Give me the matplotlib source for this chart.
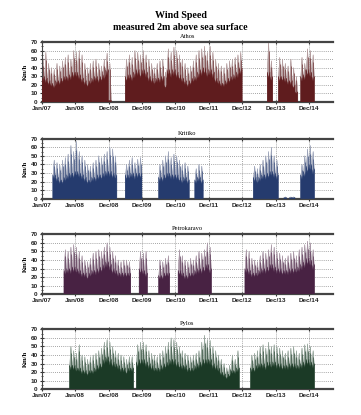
import numpy as np
import matplotlib
matplotlib.use("Agg")
import matplotlib.pyplot as plt
from matplotlib.ticker import MultipleLocator

N = np.nan

# Monthly values, Jan 2007 ... Feb 2015 (km/h): peak wind and typical upper level
athos_peak = (
    [50, 58, 45, 40, 38, 45, 42, 48, 52, 55, 50, 60] +
    [58, 60, 55, 45, 40, 45, 48, 50, 45, 42, 50, 57] +
    [45, N, N, N, N, N, 50, 55, 52, 60, 58, 55] +
    [60, 55, 50, 45, 40, 45, 48, 50, 35, 62, 58, 64] +
    [60, 55, 50, 45, 40, 42, 48, 55, 60, 62, 65, 58] +
    [65, 58, 50, 45, 42, 40, 45, 48, 50, 52, 55, 58] +
    [N, N, N, N, N, N, N, N, N, 70, 48, N] +
    [N, 52, 50, 45, 42, 50, 40, 30, N, 52, 45, 62] +
    [60, 55])
athos_level = (
    [30, 28, 25, 22, 20, 25, 25, 28, 30, 30, 32, 35] +
    [35, 32, 28, 25, 22, 25, 28, 30, 28, 30, 32, 38] +
    [2, N, N, N, N, N, 30, 32, 30, 35, 38, 35] +
    [38, 35, 30, 28, 25, 28, 28, 30, 20, 38, 35, 38] +
    [35, 32, 28, 25, 22, 25, 28, 30, 35, 38, 40, 35] +
    [38, 35, 28, 25, 22, 22, 25, 28, 30, 32, 35, 40] +
    [N, N, N, N, N, N, N, N, N, 35, 30, N] +
    [N, 30, 30, 28, 25, 25, 20, 12, N, 30, 32, 38] +
    [35, 30])

kritiko_peak = (
    [N, N, N, N, 45, 42, 40, 45, 48, 52, 62, 55] +
    [67, 55, 50, 45, 40, 38, 42, 45, 50, 48, 52, 55] +
    [60, 58, 50, N, N, N, 40, 45, 48, 42, 46, 48] +
    [N, N, N, N, N, N, 40, 45, 50, 55, 48, 52] +
    [50, 45, 40, 42, 38, N, N, 35, 40, 38, N, N] +
    [N] * 12 +
    [N, N, N, N, 38, 35, 40, 45, 50, 55, 60, 50] +
    [45, N, N, 2, N, 2, 2, N, N, 40, 50, 58] +
    [62, 55])
kritiko_level = (
    [N, N, N, N, 28, 25, 22, 22, 25, 28, 30, 30] +
    [32, 30, 28, 25, 22, 22, 25, 25, 28, 28, 30, 32] +
    [32, 30, 28, N, N, N, 28, 28, 30, 28, 30, 30] +
    [N, N, N, N, N, N, 25, 25, 28, 30, 28, 28] +
    [28, 25, 22, 25, 22, N, N, 22, 25, 22, N, N] +
    [N] * 12 +
    [N, N, N, N, 25, 22, 25, 28, 28, 30, 32, 30] +
    [28, N, N, 1, N, 1, 1, N, N, 28, 32, 38] +
    [40, 35])

petrokaravo_peak = (
    [N, N, N, N, N, N, N, N, 52, 50, 55, 58] +
    [55, 50, 45, 40, 38, 42, 48, 50, 52, 50, 55, 60] +
    [55, 50, 45, 40, 38, 40, 40, 38, N, N, N, 50] +
    [48, 50, N, N, N, N, 40, 38, 42, 45, N, N] +
    [N, 52, 45, 40, 38, 42, 40, 45, 50, 48, 52, 60] +
    [55, N, N, N, N, N, N, N, N, N, N, N] +
    [N, 52, 50, 42, 40, 38, 45, 50, 48, 52, 58, 55] +
    [50, 48, 45, 42, 45, 48, 50, 45, 52, 55, 58, 62] +
    [60, 52])
petrokaravo_level = (
    [N, N, N, N, N, N, N, N, 28, 30, 30, 32] +
    [30, 28, 25, 25, 22, 25, 28, 28, 30, 32, 35, 38] +
    [35, 30, 28, 25, 25, 25, 25, 25, N, N, N, 30] +
    [28, 25, N, N, N, N, 22, 22, 25, 25, N, N] +
    [N, 28, 25, 22, 22, 25, 25, 28, 30, 30, 32, 35] +
    [30, N, N, N, N, N, N, N, N, N, N, N] +
    [N, 30, 28, 25, 25, 25, 28, 30, 30, 32, 35, 32] +
    [30, 30, 28, 28, 28, 30, 30, 30, 32, 35, 38, 42] +
    [40, 35])

pylos_peak = (
    [N, N, N, N, N, N, N, N, N, N, 50, 45] +
    [42, 52, 40, 38, 35, 38, 40, 42, 45, 48, 55, 58] +
    [55, 50, 45, 42, 40, 38, 35, 38, 38, N, 52, 55] +
    [55, 52, 45, 42, 40, 38, 42, 45, 50, 55, 60, 58] +
    [55, 50, 45, 42, 40, 38, 40, 42, 45, 55, 63, 58] +
    [57, 50, 45, 40, 35, 30, 25, 28, 40, 35, 45, N] +
    [N, N, N, 40, 42, 45, 50, 52, 48, 55, 50, 52] +
    [50, 48, 45, 42, 45, 48, 50, 45, 42, 48, 52, 53] +
    [50, 45])
pylos_level = (
    [N, N, N, N, N, N, N, N, N, N, 28, 28] +
    [25, 25, 22, 22, 20, 22, 22, 25, 28, 30, 35, 38] +
    [35, 32, 30, 28, 25, 25, 22, 25, 25, N, 32, 35] +
    [35, 32, 30, 28, 25, 25, 25, 28, 30, 32, 35, 35] +
    [32, 30, 28, 28, 25, 25, 25, 28, 30, 32, 35, 35] +
    [35, 30, 28, 25, 20, 18, 15, 18, 22, 22, 25, N] +
    [N, N, N, 25, 25, 28, 30, 30, 28, 32, 30, 32] +
    [30, 30, 28, 28, 28, 30, 30, 28, 28, 30, 32, 35] +
    [32, 30])

stations = ["Athos", "Kritiko", "Petrokaravo", "Pylos"]
peaks = [athos_peak, kritiko_peak, petrokaravo_peak, pylos_peak]
levels = [athos_level, kritiko_level, petrokaravo_level, pylos_level]
colors = ["#5f1c1e", "#253b6e", "#482243", "#1b3a26"]
light_colors = ["#b39c9d", "#9aa2b8", "#a896a5", "#94a49a"]

tick_pos = [2007, 2008, 2009, 2010, 2011, 2012, 2013, 2014, 2015]
tick_labels = ["Jan/07", "Jan/08", "Dec/08", "Dec/09", "Dec/10", "Dec/11",
               "Dec/12", "Dec/13", "Dec/14"]
y_ticks = [0, 10, 20, 30, 40, 50, 60, 70]


def month_paths(pk, lv):
    """Per data month: sawtooth (level at month edges, peak mid-month) and
    the level outline; NaN separates the recorded stretches."""
    xs, ys_pk, ys_lv = [], [], []
    prev = False
    for m in range(len(pk)):
        t0 = 2007 + m / 12.0
        if np.isnan(pk[m]):
            if prev:
                xs.append(np.nan); ys_pk.append(np.nan); ys_lv.append(np.nan)
            prev = False
            continue
        xs += [t0, t0 + 1 / 24.0, t0 + 1 / 12.0]
        ys_pk += [lv[m] * 0.8, pk[m], lv[m] * 0.8]
        ys_lv += [lv[m], lv[m] * 0.8, lv[m]]
        prev = True
    return np.array(xs), np.array(ys_pk), np.array(ys_lv)


fig = plt.figure(figsize=(3.61, 4.15), dpi=100)
fig.patch.set_facecolor("white")

fig.text(0.5, 0.962, "Wind Speed", ha="center", va="center",
         family="Liberation Serif", weight="bold", fontsize=7.2)
fig.text(0.5, 0.933, "measured 2m above sea surface", ha="center", va="center",
         family="Liberation Serif", weight="bold", fontsize=7.2)

bottoms = [0.7542, 0.5212, 0.2908, 0.0619]
left, width, height = 0.1155, 0.807, 0.1445

for i, name in enumerate(stations):
    ax = fig.add_axes([left, bottoms[i], width, height])
    pk = np.array(peaks[i], dtype=float)
    lv = np.array(levels[i], dtype=float)
    xs, yp, yl = month_paths(pk, lv)
    ax.fill_between(xs, 0, yp, color=light_colors[i], lw=0.3, zorder=2)
    ax.plot(xs, yp, color=light_colors[i], lw=0.4, zorder=2)
    ax.fill_between(xs, 0, yl, color=colors[i], lw=0.3, zorder=3)
    x = 2007 + (np.arange(len(pk)) + 0.5) / 12.0
    ok = ~np.isnan(pk)
    ax.vlines(x[ok], 0, pk[ok] * 0.85, color=colors[i], lw=0.4, zorder=3)

    ax.set_xlim(2007, 2015.72)
    ax.set_ylim(0, 70)
    ax.set_yticks(y_ticks)
    ax.yaxis.set_minor_locator(MultipleLocator(5))
    ax.set_xticks(tick_pos)
    ax.set_xticklabels(tick_labels)
    for lab in ax.get_xticklabels() + ax.get_yticklabels():
        lab.set_family("Liberation Sans")
        lab.set_weight("bold")
        lab.set_fontsize(4.6)
    ax.tick_params(axis="both", which="major", direction="inout", length=3.5,
                   width=0.8, pad=1.2, colors="#333333", labelcolor="#222222")
    ax.tick_params(axis="y", which="minor", direction="inout", length=2, width=0.5)
    ax.tick_params(axis="x", top=True)
    ax.grid(axis="both", which="major", ls=(0, (1, 1.5)), lw=0.6, color="#888888")
    ax.set_axisbelow(True)
    ax.spines["right"].set_visible(False)
    ax.spines["top"].set_linewidth(1.6)
    ax.spines["top"].set_color("#444444")
    ax.spines["bottom"].set_linewidth(1.6)
    ax.spines["bottom"].set_color("#444444")
    ax.spines["left"].set_linewidth(0.8)
    ax.spines["left"].set_color("#444444")
    ax.set_ylabel("Km/h", family="Liberation Serif", weight="bold", fontsize=4.8,
                  labelpad=2)
    ax.set_title(name, family="Liberation Serif", fontsize=4.6, pad=3)

fig.savefig("out.png", dpi=100, facecolor="white")
